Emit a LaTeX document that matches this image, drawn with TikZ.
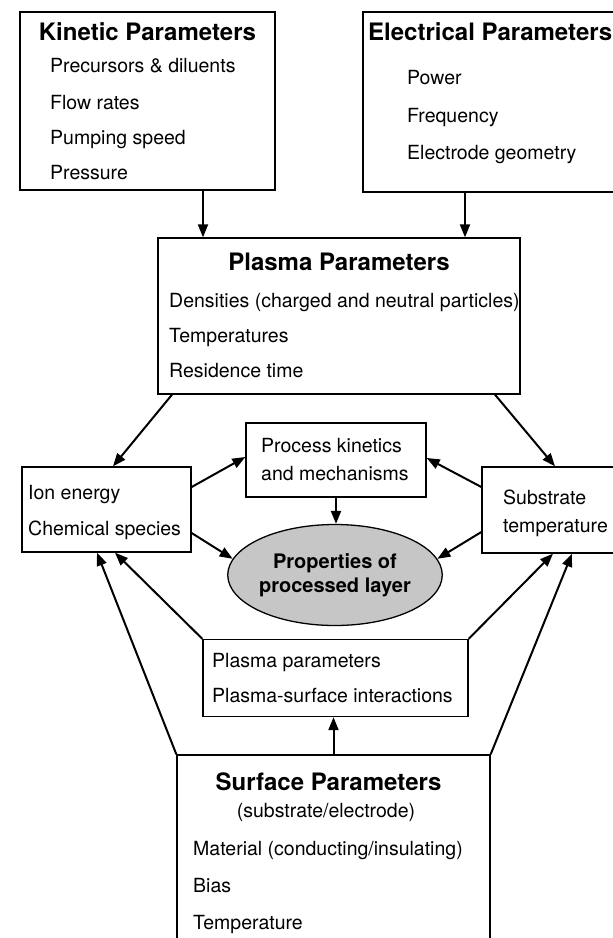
\documentclass[tikz,border=0pt]{standalone}
\usepackage{fontspec}
\setmainfont{TeX Gyre Heros}
\usetikzlibrary{arrows.meta,shapes.geometric}

\tikzset{
  caja/.style={draw, line width=1.3pt, inner sep=0pt},
  titulo/.style={font=\fontsize{24}{28}\selectfont\bfseries, inner sep=0pt, text height=17pt, text depth=0pt},
  item/.style={font=\fontsize{19.5}{23}\selectfont, anchor=west, inner sep=0pt, text height=14pt, text depth=0pt},
  flecha/.style={line width=2pt, -{Triangle[length=13pt,width=10pt]}}
}

\begin{document}
\begin{tikzpicture}[x=1pt,y=-1pt]

    \useasboundingbox (0,0) rectangle (613,938);
    \clip (0,0) rectangle (613,938);

    % Parametros cineticos
        \node[caja, minimum width=255pt, minimum height=178pt] (cin) at (147.5,101) {};
        \node[titulo] (cint) at (147.5,32) {Kinetic Parameters};
        \node[item] (cin1) at (50,65) {Precursors \& diluents};
        \node[item] (cin2) at (50,102) {Flow rates};
        \node[item] (cin3) at (50,137) {Pumping speed};
        \node[item] (cin4) at (50,172) {Pressure};

    % Parametros electricos
        \node[caja, minimum width=287pt, minimum height=180pt] (ele) at (506.5,102) {};
        \node[titulo, anchor=west] (elet) at (368,32) {Electrical Parameters};
        \node[item] (ele1) at (407,77) {Power};
        \node[item] (ele2) at (407,115) {Frequency};
        \node[item] (ele3) at (407,152) {Electrode geometry};

    % Parametros del plasma
        \node[caja, minimum width=362pt, minimum height=156pt] (pla) at (339,316) {};
        \node[titulo] (plat) at (339,262) {Plasma Parameters};
        \node[item] (pla1) at (169,300) {Densities (charged and neutral particles)};
        \node[item] (pla2) at (169,335) {Temperatures};
        \node[item] (pla3) at (169,370) {Residence time};

    % Cinetica del proceso
        \node[caja, minimum width=180pt, minimum height=74pt] (pro) at (336,460) {};
        \node[item] (pro1) at (261,445) {Process kinetics};
        \node[item] (pro2) at (261,473) {and mechanisms};

    % Iones y especies
        \node[caja, minimum width=169pt, minimum height=85pt] (ion) at (106.5,509.5) {};
        \node[item] (ion1) at (28,492) {Ion energy};
        \node[item] (ion2) at (28,528) {Chemical species};

    % Temperatura del sustrato
        \node[caja, minimum width=168pt, minimum height=86pt] (sub) at (566,510) {};
        \node[item] (sub1) at (503,497) {Substrate};
        \node[item] (sub2) at (503,525) {temperature};

    % Propiedades de la capa
        \node[ellipse, draw, line width=1.3pt, fill=gray!45, minimum width=171pt, minimum height=101pt,
              inner sep=0pt, align=center, font=\fontsize{20}{24}\selectfont\bfseries] (cap) at (335,575)
              {Properties of\\processed layer};

    % Interacciones plasma-superficie
        \node[caja, minimum width=265pt, minimum height=77pt] (int) at (335.5,678) {};
        \node[item] (int1) at (212,660) {Plasma parameters};
        \node[item] (int2) at (212,695) {Plasma-surface interactions};

    % Parametros de superficie
        \node[caja, minimum width=313pt, minimum height=230pt] (sup) at (333.5,870) {};
        \node[titulo] (supt) at (328.5,782) {Surface Parameters};
        \node[item, anchor=center] (sups) at (326,810) {(substrate/electrode)};
        \node[item] (sup1) at (193,848) {Material (conducting/insulating)};
        \node[item] (sup2) at (193,885) {Bias};
        \node[item] (sup3) at (193,922) {Temperature};

    % Flechas
        \draw[flecha] ([xshift=55.5pt]cin.south) -- ([xshift=55.5pt]cin.south |- pla.north);
        \draw[flecha] ([xshift=-41.5pt]ele.south) -- ([xshift=-41.5pt]ele.south |- pla.north);

        \draw[flecha] ([xshift=-167pt]pla.south) -- ([xshift=6.5pt]ion.north);
        \draw[flecha] ([xshift=156pt]pla.south) -- ([xshift=-11pt]sub.north);

        \draw[flecha] ([yshift=22.5pt]ion.east) -- ([yshift=3pt]pro.west);
        \draw[flecha] ([yshift=23pt]sub.west) -- ([yshift=2pt]pro.east);
        \draw[flecha] (pro.south) -- (pro.south |- cap.north);

        \draw[flecha] ([yshift=-23.5pt]ion.east) -- (cap.171);
        \draw[flecha] ([yshift=-22pt]sub.west) -- (cap.9);

        \draw[flecha] (int.north west) -- ([xshift=8.5pt]ion.south);
        \draw[flecha] (sup.north west) -- ([xshift=-9.5pt]ion.south);
        \draw[flecha] (int.north east) -- ([xshift=-13pt]sub.south);
        \draw[flecha] (sup.north east) -- ([xshift=6pt]sub.south);

        \draw[flecha] (sup.north) -- (sup.north |- int.south);

\end{tikzpicture}
\end{document}
